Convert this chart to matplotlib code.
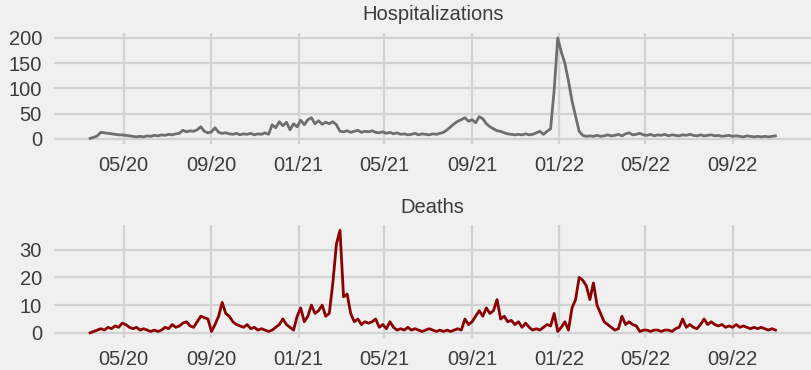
import pandas as pd
import matplotlib.pyplot as plt
import matplotlib.dates as mdates

start_date = "2020-03-15"
step = "5D"

hospitalizations = [
    1, 3, 6, 13, 12, 11, 10, 9, 8, 8,
    7, 6, 5, 4, 5, 4, 6, 5, 7, 6,
    8, 7, 9, 8, 10, 11, 17, 14, 16, 15,
    18, 24, 15, 12, 14, 22, 13, 11, 12, 10,
    9, 11, 8, 10, 9, 11, 8, 10, 9, 12,
    9, 28, 22, 34, 26, 33, 18, 30, 24, 37,
    28, 38, 42, 30, 36, 29, 33, 30, 34, 28,
    15, 14, 16, 13, 15, 17, 13, 15, 14, 16,
    13, 12, 14, 11, 13, 10, 12, 9, 10, 8,
    9, 11, 8, 10, 9, 8, 10, 9, 11, 13,
    18, 24, 30, 35, 38, 42, 35, 38, 32, 44,
    40, 30, 24, 20, 16, 15, 12, 10, 9, 8,
    9, 8, 10, 8, 9, 12, 15, 9, 15, 20,
    97, 200, 172, 150, 115, 75, 45, 15, 7, 5,
    6, 5, 7, 5, 6, 8, 6, 7, 9, 6,
    10, 12, 8, 9, 11, 8, 7, 9, 6, 8,
    7, 9, 6, 8, 7, 6, 8, 7, 9, 7,
    6, 8, 6, 7, 8, 6, 7, 5, 6, 7,
    5, 6, 5, 4, 6, 5, 4, 5, 4, 5,
    4, 5, 6,
]

deaths = [
    0, 0.5, 1, 1.5, 1, 2, 1.5, 2.5, 2, 3.5,
    3, 2, 1.5, 2, 1, 1.5, 1, 0.5, 1, 0.5,
    1, 2, 1.5, 3, 2, 2.5, 3.5, 4, 2.5, 2,
    4, 6, 5.5, 5, 0.5, 3, 6, 11, 7, 6,
    4, 3, 2.5, 2, 3, 1.5, 2, 1, 1.5, 1,
    0.5, 1, 2, 3, 5, 3, 2, 1, 6, 9,
    4, 6, 10, 7, 8, 10, 6, 7, 18, 32,
    37, 13, 14, 7, 4, 5, 3, 4, 3.5, 4,
    5, 2, 3, 1.5, 4, 2, 1, 1.5, 1, 2,
    1, 1.5, 1, 0.5, 1, 1.5, 1, 0.5, 1, 0.5,
    1, 0.5, 1, 1.5, 1, 5, 3, 4, 6, 8,
    6, 9, 7, 8, 12, 5, 6, 4, 4.5, 3,
    4, 2, 3.5, 2, 1, 1.5, 1, 2, 3, 2.5,
    7, 0.5, 2, 4, 1, 9, 12, 20, 19, 17,
    12, 18, 10, 7, 4, 3, 2, 1, 1.5, 6,
    3, 4, 3, 2.5, 0.5, 1, 1, 0.5, 1, 1,
    0.5, 1, 1, 0.5, 1.5, 2, 5, 2, 3, 2,
    1.5, 3, 5, 3, 4, 3, 2.5, 3, 2, 2.5,
    2, 3, 2, 2.5, 2, 1.5, 2, 1.5, 2, 1.5,
    1, 1.5, 1,
]

panel_titles = ["Hospitalizations", "Deaths"]
hosp_ticks = [0, 50, 100, 150, 200]
death_ticks = [0, 10, 20, 30]

bg = "#F0F0F0"
grid_col = "#D2D2D2"
text_col = "#3C3C3C"

plt.rcParams['font.family'] = ['Liberation Sans', 'DejaVu Sans']

dates = pd.date_range(start_date, periods=len(hospitalizations), freq=step)

fig = plt.figure(figsize=(8.12, 3.70), dpi=100, facecolor=bg)
ax_top = fig.add_axes([0.067, 0.611, 0.932, 0.30])
ax_bot = fig.add_axes([0.067, 0.0865, 0.932, 0.305])


def style_axis(ax, title, yticks, ylim):
    ax.set_facecolor(bg)
    for s in ax.spines.values():
        s.set_visible(False)
    ax.grid(True, color=grid_col, linewidth=1.6)
    ax.set_axisbelow(True)
    ax.set_yticks(yticks)
    ax.set_ylim(ylim)
    ax.xaxis.set_major_locator(mdates.MonthLocator(bymonth=[1, 5, 9]))
    ax.xaxis.set_major_formatter(mdates.DateFormatter("%m/%y"))
    ax.set_xlim(pd.Timestamp("2020-01-25"), pd.Timestamp("2022-12-20"))
    ax.tick_params(axis="both", length=0, labelsize=14.5, colors=text_col)
    ax.tick_params(axis="x", pad=9)
    ax.tick_params(axis="y", pad=9)
    ax.set_title(title, fontsize=14.5, color=text_col, pad=9)


ax_top.plot(dates, hospitalizations, color="#6E6E6E", linewidth=2.0)
style_axis(ax_top, panel_titles[0], hosp_ticks, (-10, 210))

ax_bot.plot(dates, deaths, color="#8B0000", linewidth=2.0)
style_axis(ax_bot, panel_titles[1], death_ticks, (-1.85, 38.85))

fig.savefig("out.png", dpi=100, facecolor=bg)
